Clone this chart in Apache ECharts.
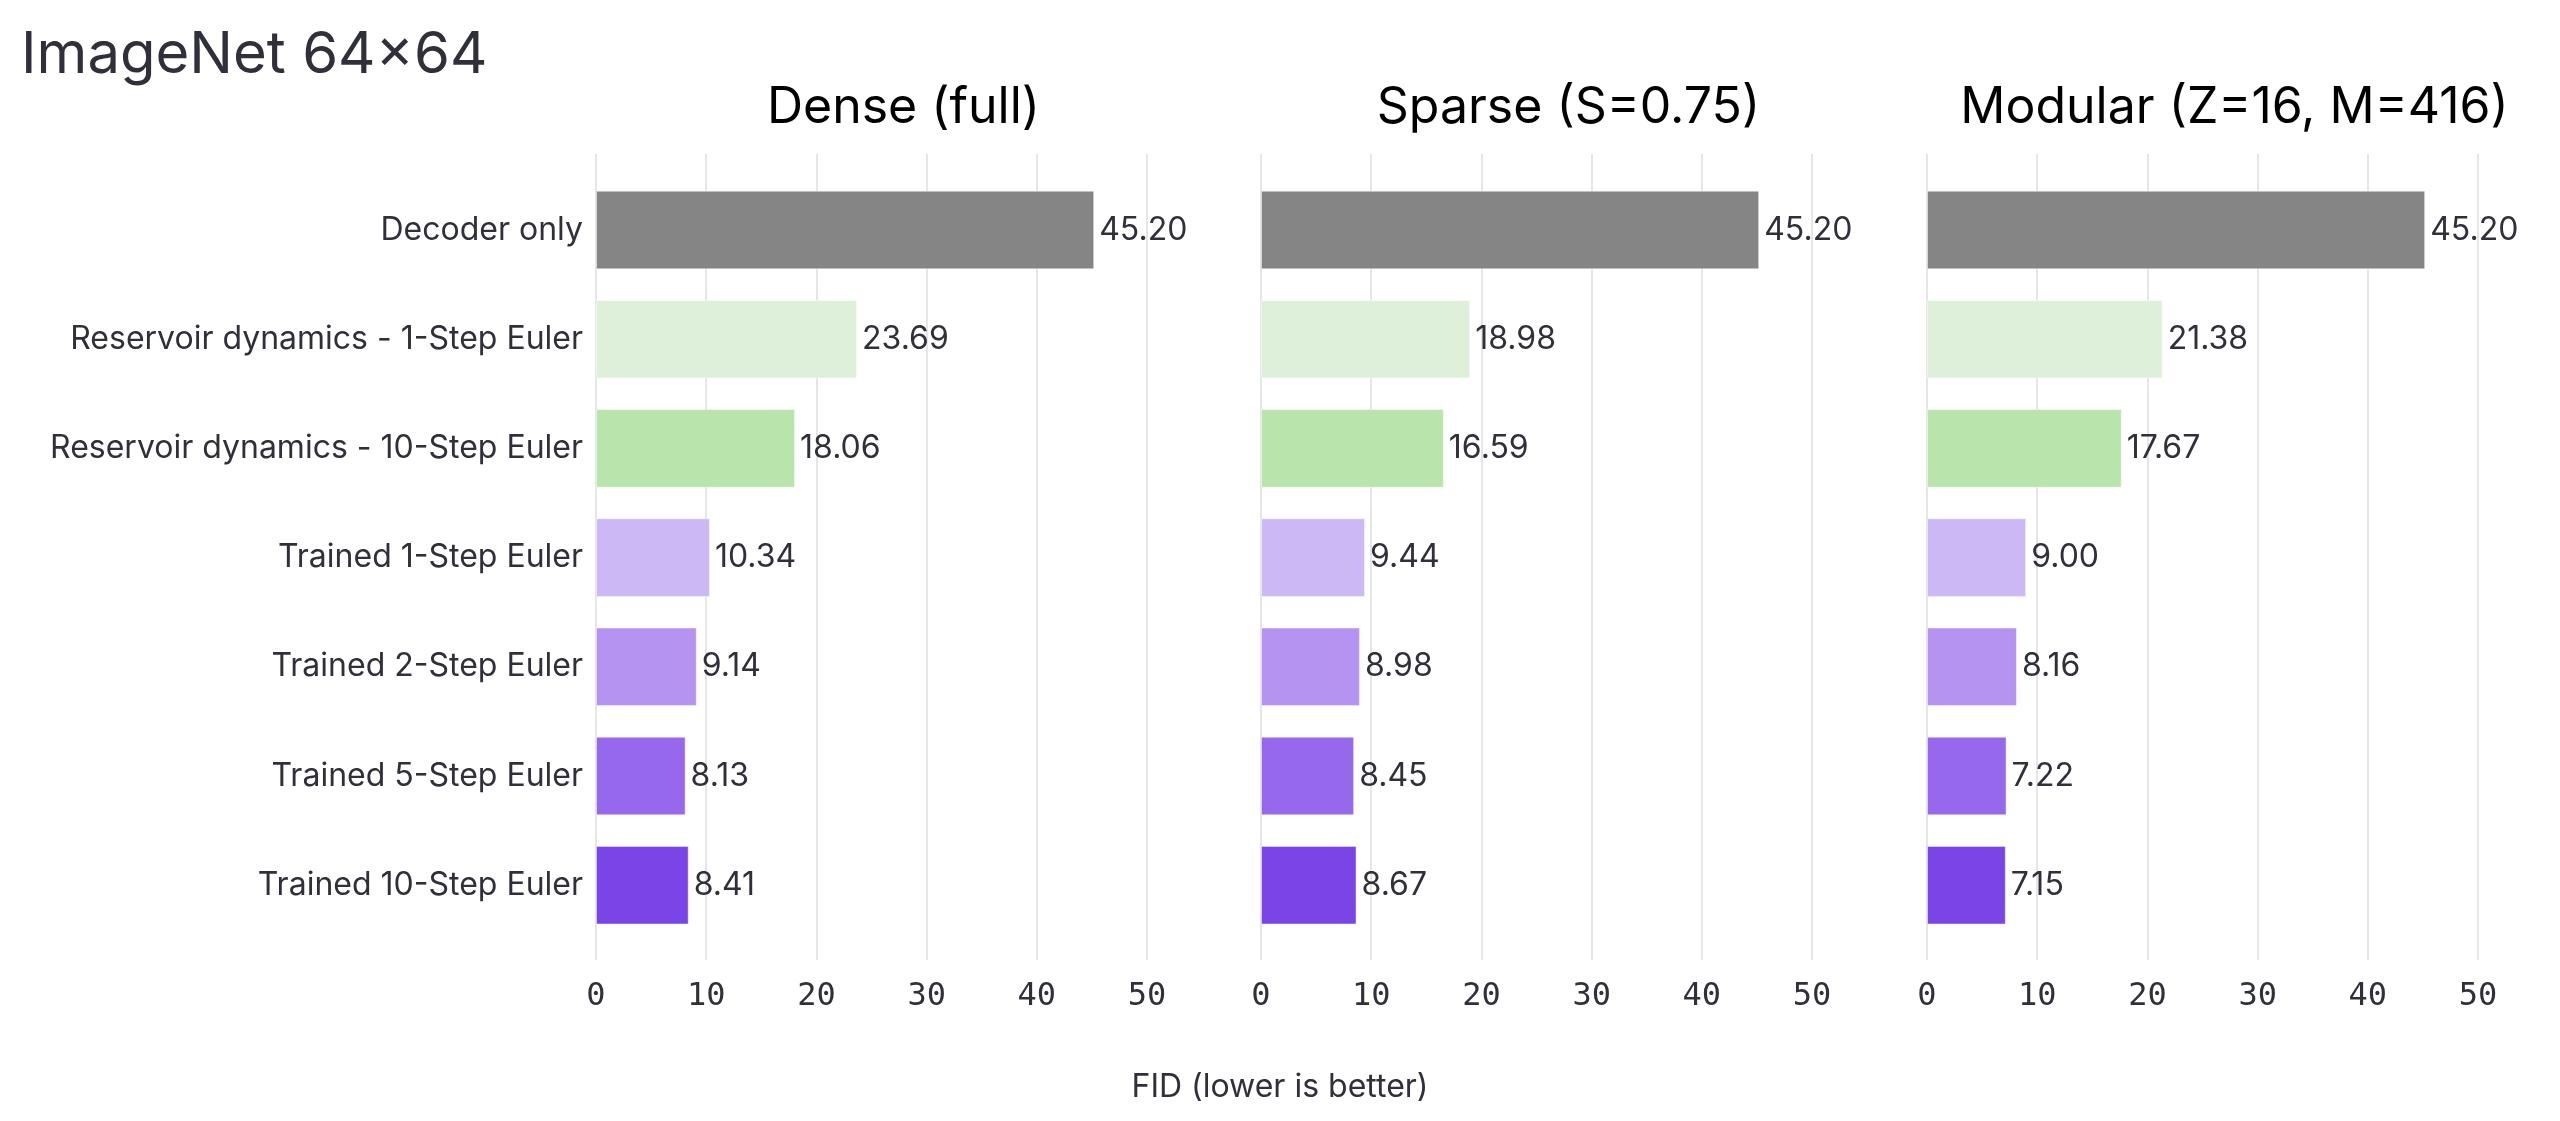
<!DOCTYPE html>
<html>
<head>
<meta charset="utf-8">
<title>ImageNet 64×64</title>
<script src="https://cdn.jsdelivr.net/npm/echarts@6.0.0/dist/echarts.min.js"></script>
<style>
  html, body { margin: 0; padding: 0; background: #fff; }
  #chart { width: 2560px; height: 1121px; }
</style>
</head>
<body>
<div id="chart"></div>
<script>
// data
var categories = [
  'Decoder only',
  'Reservoir dynamics - 1-Step Euler',
  'Reservoir dynamics - 10-Step Euler',
  'Trained 1-Step Euler',
  'Trained 2-Step Euler',
  'Trained 5-Step Euler',
  'Trained 10-Step Euler'
];
var panelTitles = ['Dense (full)', 'Sparse (S=0.75)', 'Modular (Z=16, M=416)'];
var denseFid   = [45.20, 23.69, 18.06, 10.34, 9.14, 8.13, 8.41];
var sparseFid  = [45.20, 18.98, 16.59, 9.44, 8.98, 8.45, 8.67];
var modularFid = [45.20, 21.38, 17.67, 9.00, 8.16, 7.22, 7.15];
var barColors = ['#858585', '#dff0da', '#b9e5ad', '#ccb8f5', '#b494f0', '#9668ec', '#7a45e6'];
var xTicks = [0, 10, 20, 30, 40, 50];

var panelData = [denseFid, sparseFid, modularFid];

// layout
var TEXT = '#30303a';
var SANS = 'Inter, "Noto Sans", sans-serif';
var MONO = '"DejaVu Sans Mono", monospace';
var X_MAX = 55.8;
var panelLeft = [596, 1261, 1927];
var panelWidth = 615;

var chart = echarts.init(document.getElementById('chart'));

var grids = [], xAxes = [], yAxes = [], series = [], graphics = [];

panelData.forEach(function (vals, p) {
  // back grid: vertical grid lines + tick labels (a bit taller than the bars area)
  grids.push({ left: panelLeft[p], width: panelWidth, top: 154, height: 806 });
  // front grid: bars
  grids.push({ left: panelLeft[p], width: panelWidth, top: 175.4, height: 764.4 });

  xAxes.push({
    gridIndex: 2 * p, type: 'value', min: 0, max: X_MAX, interval: 10,
    axisLine: { show: false }, axisTick: { show: false },
    axisLabel: {
      margin: 21, fontFamily: MONO, fontSize: 32, color: TEXT, showMaxLabel: false,
      formatter: function (v) { return xTicks.indexOf(v) >= 0 ? String(v) : ''; }
    },
    splitLine: { show: true, showMaxLine: false, lineStyle: { color: '#e6e6e6', width: 2 } }
  });
  xAxes.push({
    gridIndex: 2 * p + 1, type: 'value', min: 0, max: X_MAX, show: false
  });
  yAxes.push({ gridIndex: 2 * p, type: 'value', show: false });
  yAxes.push({
    gridIndex: 2 * p + 1, type: 'category', data: categories, inverse: true,
    axisLine: { show: false }, axisTick: { show: false },
    axisLabel: { show: p === 0, margin: 13, fontFamily: SANS, fontSize: 32, color: TEXT }
  });

  series.push({
    type: 'bar', name: panelTitles[p],
    xAxisIndex: 2 * p + 1, yAxisIndex: 2 * p + 1,
    barWidth: '72%',
    data: vals.map(function (v, i) {
      return { value: v, itemStyle: { color: barColors[i] } };
    }),
    itemStyle: { borderColor: 'rgba(255,255,255,0.45)', borderWidth: 1 },
    label: {
      show: true, position: 'right', distance: 5,
      fontFamily: SANS, fontSize: 32, color: TEXT,
      formatter: function (d) { return d.value.toFixed(2); }
    },
    emphasis: { disabled: true },
    silent: true
  });

  graphics.push({
    type: 'text', x: panelLeft[p] + panelWidth / 2, y: 108,
    style: {
      text: panelTitles[p], font: '50px ' + SANS, fill: '#000',
      textAlign: 'center', textVerticalAlign: 'middle'
    }
  });
});

graphics.push({
  type: 'text', x: 21, y: 56,
  style: {
    text: 'ImageNet 64×64', font: '58px ' + SANS, fill: TEXT,
    textAlign: 'left', textVerticalAlign: 'middle'
  }
});
graphics.push({
  type: 'text', x: 1280, y: 1087,
  style: {
    text: 'FID (lower is better)', font: '32px ' + SANS, fill: TEXT,
    textAlign: 'center', textVerticalAlign: 'middle'
  }
});

chart.setOption({
  backgroundColor: '#fff',
  animation: false,
  grid: grids,
  xAxis: xAxes,
  yAxis: yAxes,
  series: series,
  graphic: graphics
});
</script>
</body>
</html>
